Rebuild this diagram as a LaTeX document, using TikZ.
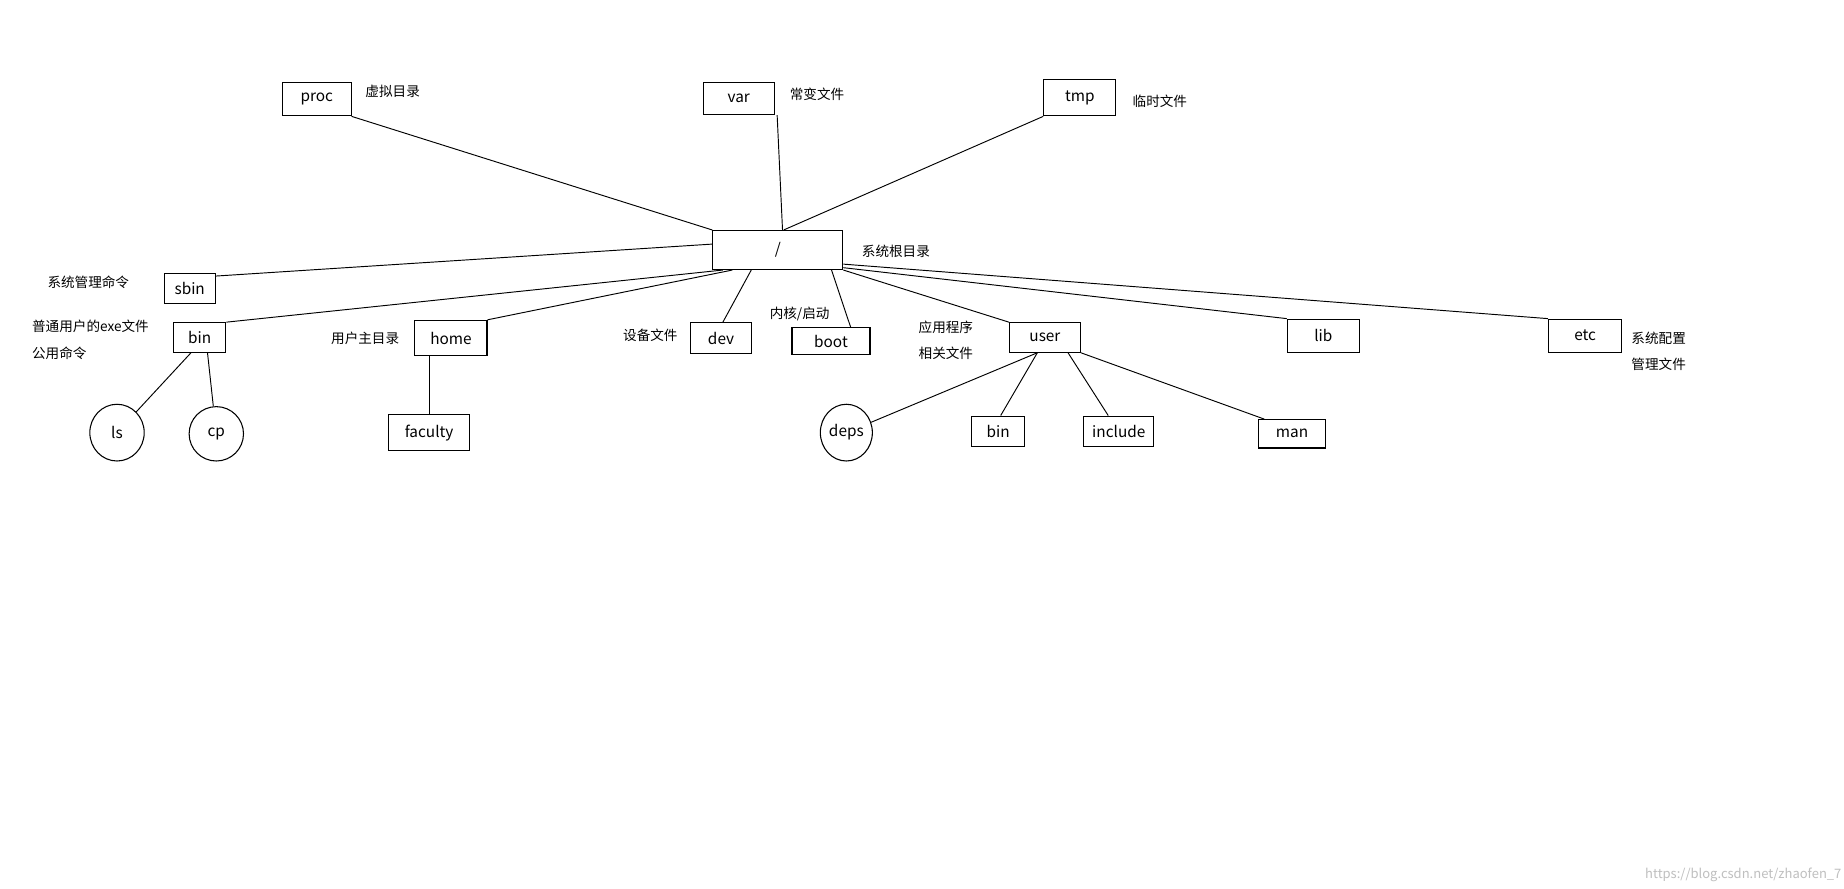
\documentclass[tikz,border=0pt]{standalone}
\usepackage{fontspec}
\setmainfont{Noto Sans CJK SC}
\usetikzlibrary{shapes.geometric,calc}
\begin{document}
\begin{tikzpicture}[x=1pt,y=-1pt,
  bx/.style={draw,line width=0.9pt,inner sep=0pt,font=\fontsize{13}{15}\selectfont},
  el/.style={draw,ellipse,line width=0.9pt,inner sep=0pt,font=\fontsize{13}{15}\selectfont},
  lb/.style={anchor=west,inner sep=0pt,font=\fontsize{11.5}{13}\selectfont},
  ln/.style={line width=0.8pt}]
\useasboundingbox[fill=white] (0,0) rectangle (1560,752);
\newcommand\bxat[6]{\node[bx,minimum width=#4-#2,minimum height=#5-#3] (#1) at ({(#2+#4)/2},{(#3+#5)/2}) {#6};}
\bxat{proc}{239}{70}{297}{98}{proc}
\bxat{var}{595}{70}{655}{97}{var}
\bxat{tmp}{883}{67}{944}{98}{tmp}
\bxat{root}{603}{195}{713}{228}{/}
\bxat{sbin}{139}{231}{182}{257}{sbin}
\bxat{bin}{147}{273}{191}{298}{bin}
\bxat{home}{351}{271}{412}{301}{home}
\bxat{dev}{584}{273}{636}{299}{dev}
\bxat{boot}{670}{277}{736}{300}{boot}
\bxat{user}{854}{273}{914}{298}{user}
\bxat{lib}{1089}{270}{1150}{298}{lib}
\bxat{etc}{1310}{270}{1372}{298}{etc}
\bxat{faculty}{329}{351}{397}{381}{faculty}
\bxat{ubin}{822}{352}{867}{378}{bin}
\bxat{include}{917}{352}{976}{378}{include}
\bxat{man}{1065}{355}{1121}{379}{man}
\node[el,minimum width=46,minimum height=48] (ls) at (99,366) {ls};
\node[el,minimum width=46,minimum height=46] (cp) at (183,367) {cp};
\node[el,minimum width=44,minimum height=48] (deps) at (716,366) {deps};
% labels
\node[lb] (l1) at (309,77) {虚拟目录};
\node[lb] (l2) at (668,80) {常变文件};
\node[lb] (l3) at (958,86) {临时文件};
\node[lb] (l4) at (729,213) {系统根目录};
\node[lb] (l5) at (40,239) {系统管理命令};
\node[lb] (l6) at (27,276) {普通用户的exe文件};
\node[lb] (l7) at (27,299) {公用命令};
\node[lb] (l8) at (280,286) {用户主目录};
\node[lb] (l9) at (527,284) {设备文件};
\node[lb] (l10) at (651,266) {内核/启动};
\node[lb] (l11) at (777,277) {应用程序};
\node[lb] (l12) at (777,299) {相关文件};
\node[lb] (l13) at (1380,286) {系统配置};
\node[lb] (l14) at (1380,308) {管理文件};
\node[anchor=east,inner sep=0pt,text=black!25,font=\fontsize{11}{13}\selectfont] (wm) at (1558,740) {https://blog.csdn.net/zhaofen\_7};
% edges
\draw[ln] (proc.south east) -- (root.north west);
\draw[ln] ($(var.south east)+(2,0)$) -- ($(root.north)+(4,0)$);
\draw[ln] (tmp.south west) -- ($(root.north)+(5,0)$);
\draw[ln] ($(sbin.north east)+(0,3)$) -- ($(root.west)+(0,-5)$);
\draw[ln] (bin.north east) -- ($(root.south west)+(9,0)$);
\draw[ln] (home.north east) -- ($(root.south west)+(17,0)$);
\draw[ln] ($(dev.north west)+(28,0)$) -- ($(root.south west)+(33,0)$);
\draw[ln] ($(boot.north west)+(50,0)$) -- ($(root.south east)+(-10,0)$);
\draw[ln] (user.north west) -- (root.south east);
\draw[ln] (lib.north west) -- ($(root.south east)+(0,-2)$);
\draw[ln] (etc.north west) -- ($(root.south east)+(0,-5)$);
\draw[ln] ($(bin.south west)+(15,0)$) -- (ls);
\draw[ln] ($(bin.south west)+(29,0)$) -- (cp);
\draw[ln] (home.south -| faculty.north) -- (faculty.north);
\draw[ln] ($(user.south west)+(24,0)$) -- (deps);
\draw[ln] ($(user.south west)+(24,0)$) -- ($(ubin.north west)+(25,0)$);
\draw[ln] ($(user.south west)+(50,0)$) -- ($(include.north west)+(21,0)$);
\draw[ln] (user.south east) -- ($(man.north west)+(5,0)$);
\end{tikzpicture}
\end{document}
